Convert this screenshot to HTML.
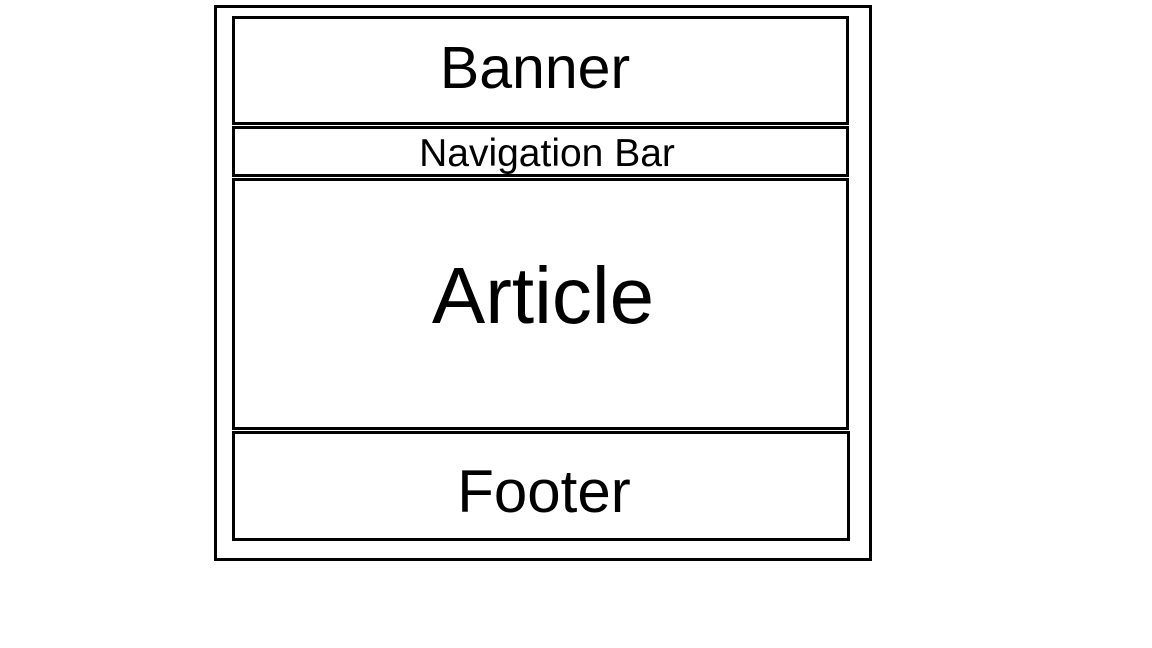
<!DOCTYPE html>
<html><head><meta charset="utf-8"><style>
html,body{margin:0;padding:0;background:#fff;width:1152px;height:648px;overflow:hidden}
svg{display:block}
text{font-family:"Liberation Sans",Arial,sans-serif;fill:#000}
</style></head><body>
<svg width="1152" height="648" viewBox="0 0 1152 648" xmlns="http://www.w3.org/2000/svg">
<g fill="none" stroke="#000" stroke-width="3">
<rect x="215.5" y="6.5" width="655" height="553"/>
<rect x="233.5" y="17.5" width="614" height="106"/>
<rect x="233.5" y="127.5" width="614" height="48"/>
<rect x="233.5" y="179.5" width="614" height="249"/>
<rect x="233.5" y="432.5" width="615" height="107"/>
</g>
<text x="535" y="88" font-size="59" text-anchor="middle">Banner</text>
<text x="547" y="166" font-size="39" text-anchor="middle">Navigation Bar</text>
<text x="543" y="323" font-size="80" text-anchor="middle">Article</text>
<text x="544" y="512" font-size="60" text-anchor="middle">Footer</text>
</svg>
</body></html>
